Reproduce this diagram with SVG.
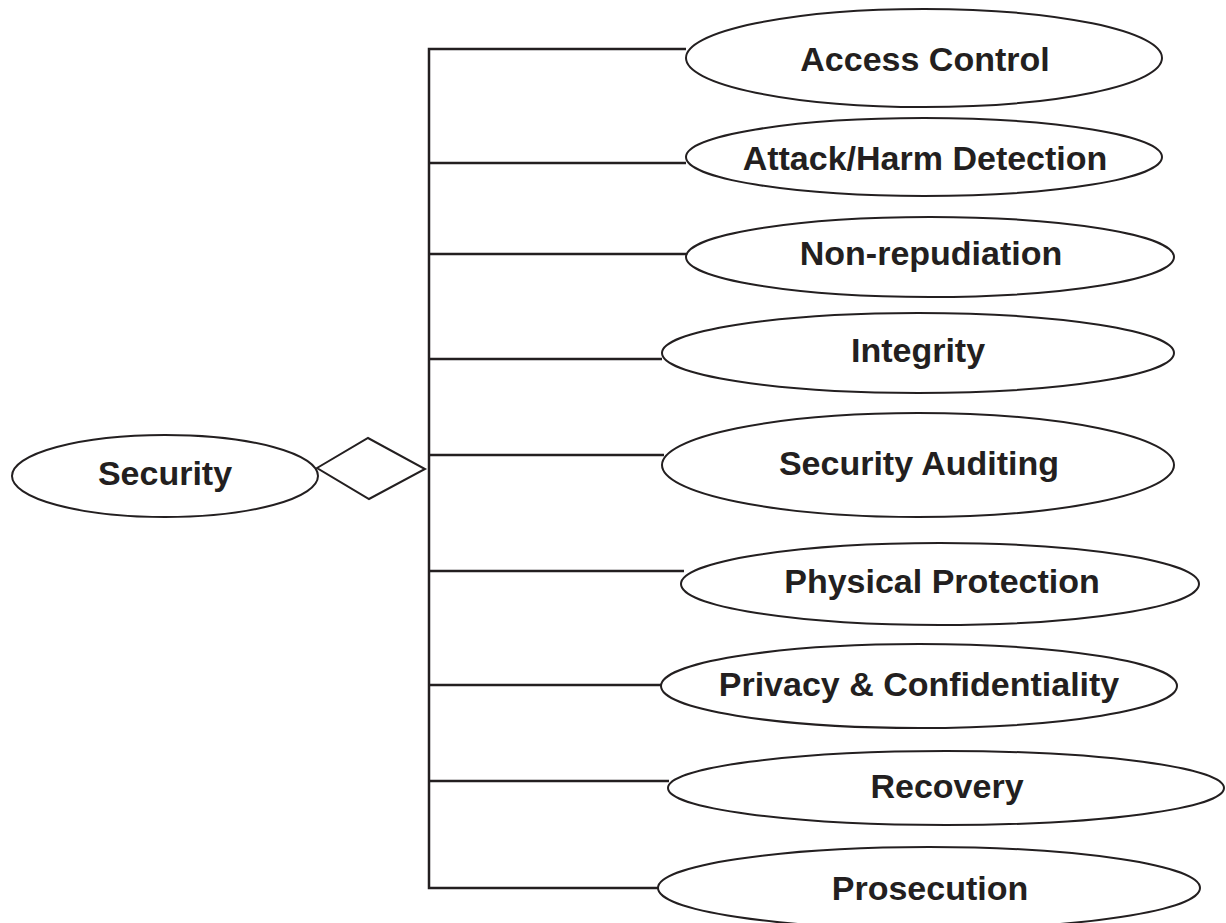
<svg xmlns="http://www.w3.org/2000/svg" width="1226" height="923" viewBox="0 0 1226 923">
<style>
.n ellipse{fill:#fff;stroke:#231f20;stroke-width:2}
.n text{font-family:"Liberation Sans",Arial,sans-serif;font-weight:bold;font-size:34px;fill:#231f20;text-anchor:middle}
.c line,.c polyline{stroke:#231f20;stroke-width:2.5;fill:none}
.c polygon{fill:#fff;stroke:#231f20;stroke-width:2}
</style>
<rect width="1226" height="923" fill="#fff"/>
<g id="connectors" class="c">
<polygon points="317,468 368,438 425,469 369,499"/>
<polyline points="686,49 429,49 429,888 658,888"/>
<line x1="429" y1="163" x2="686" y2="163"/>
<line x1="429" y1="254" x2="686" y2="254"/>
<line x1="429" y1="359" x2="662" y2="359"/>
<line x1="429" y1="455" x2="664" y2="455"/>
<line x1="429" y1="571" x2="684" y2="571"/>
<line x1="429" y1="685" x2="661" y2="685"/>
<line x1="429" y1="781" x2="669" y2="781"/>
</g>
<g id="security" class="n"><ellipse cx="165" cy="476" rx="153" ry="41"/><text x="165" y="485">Security</text></g>
<g id="access-control" class="n"><ellipse cx="924" cy="58" rx="238" ry="49"/><text x="925" y="71">Access Control</text></g>
<g id="attack-harm-detection" class="n"><ellipse cx="924" cy="157" rx="238" ry="39"/><text x="925" y="170">Attack/Harm Detection</text></g>
<g id="non-repudiation" class="n"><ellipse cx="930" cy="257" rx="244" ry="40"/><text x="931" y="265">Non-repudiation</text></g>
<g id="integrity" class="n"><ellipse cx="918" cy="353" rx="256" ry="40"/><text x="918" y="362">Integrity</text></g>
<g id="security-auditing" class="n"><ellipse cx="918" cy="465" rx="256" ry="52"/><text x="919" y="475">Security Auditing</text></g>
<g id="physical-protection" class="n"><ellipse cx="940" cy="584" rx="259" ry="41"/><text x="942" y="593">Physical Protection</text></g>
<g id="privacy-confidentiality" class="n"><ellipse cx="919" cy="686" rx="258" ry="42"/><text x="919" y="696">Privacy &amp; Confidentiality</text></g>
<g id="recovery" class="n"><ellipse cx="946" cy="788" rx="278" ry="37"/><text x="947" y="798">Recovery</text></g>
<g id="prosecution" class="n"><ellipse cx="929" cy="888" rx="271" ry="41"/><text x="930" y="900">Prosecution</text></g>
</svg>
